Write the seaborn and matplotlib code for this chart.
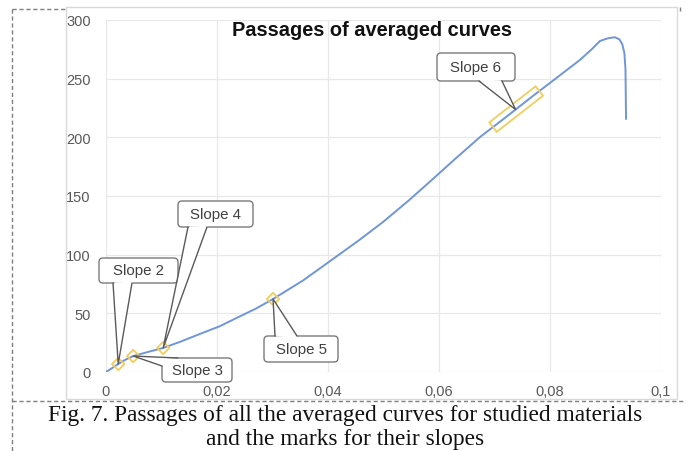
import numpy as np
import pandas as pd
import matplotlib
matplotlib.use("Agg")
import matplotlib.pyplot as plt
import seaborn as sns
from matplotlib.patches import FancyBboxPatch, Polygon, Rectangle
from matplotlib.lines import Line2D
from matplotlib.transforms import IdentityTransform
from matplotlib.ticker import FuncFormatter

# ---------------- data ----------------
strain = [0, 0.001, 0.0022, 0.0035, 0.0049, 0.0075, 0.0103, 0.0135, 0.0169,
          0.0205, 0.0235, 0.027, 0.0301, 0.0355, 0.0409, 0.0455, 0.0499,
          0.0545, 0.0589, 0.063, 0.0674, 0.072, 0.0769, 0.081, 0.0854,
          0.0875, 0.0890, 0.0905, 0.0917, 0.0925, 0.0930, 0.0934, 0.0936,
          0.0937]
stress = [0, 3, 6.8, 10.5, 13.6, 17, 20.5, 26, 32.4, 39, 46, 54, 62.2, 78,
          96.3, 112, 127.8, 146, 164.5, 182, 200.3, 217, 235.2, 250, 266,
          275, 282.1, 284.5, 285.3, 283.5, 279.6, 272, 258, 215.6]

slope_labels = ["Slope 2", "Slope 3", "Slope 4", "Slope 5", "Slope 6"]
slope_x = [0.0022, 0.0049, 0.0103, 0.0301]
slope6_x = [0.0703, 0.0775]

x_ticks = [0, 0.02, 0.04, 0.06, 0.08, 0.1]
y_ticks = [0, 50, 100, 150, 200, 250, 300]

title = "Passages of averaged curves"
caption1 = "Fig. 7. Passages of all the averaged curves for studied materials"
caption2 = "and the marks for their slopes"

# marks sit on the curve
slope_y = list(np.interp(slope_x, strain[:29], stress[:29]))
slope6_y = list(np.interp(slope6_x, strain[:29], stress[:29]))

# ---------------- figure ----------------
W, H = 686, 452
sns.set_theme(style="white")
plt.rcParams['font.family'] = ['Liberation Sans', 'DejaVu Sans']

fig = plt.figure(figsize=(W / 100, H / 100), dpi=100)
fig.patch.set_facecolor("white")

def fx(px):
    return px / W

def fy(py):
    return 1 - py / H

# axes: x=0 -> px 106, x=0.1 -> px 661 ; y=0 -> py 373, y=300 -> py 21
ax = fig.add_axes([fx(106), fy(373), (661 - 106) / W, (373 - 21) / H])
ax.set_facecolor("none")

# chart frame (light grey) and dashed document border
fig.add_artist(Rectangle((fx(66), fy(400)), (677 - 66) / W, (400 - 8) / H,
                         transform=fig.transFigure, fill=False,
                         ec="#d9d9d9", lw=1.0, zorder=0))
dash_kw = dict(color="#7f7f7f", lw=1.0, ls=(0, (3, 2)), transform=fig.transFigure)
fig.add_artist(Line2D([fx(12), fx(12)], [fy(10), fy(452)], **dash_kw))
fig.add_artist(Line2D([fx(12), fx(66)], [fy(10), fy(10)], **dash_kw))
fig.add_artist(Line2D([fx(12), fx(686)], [fy(402), fy(402)], **dash_kw))
fig.add_artist(Line2D([fx(680), fx(680)], [fy(8), fy(12)], **dash_kw))

df = pd.DataFrame({"strain": strain, "stress": stress})
sns.lineplot(data=df, x="strain", y="stress", sort=False, estimator=None,
             color="#6F96D8", lw=1.4, ax=ax, zorder=3)

ax.set_xlim(0, 0.1)
ax.set_ylim(0, 300)
ax.set_xticks(x_ticks)
ax.set_yticks(y_ticks)
ax.xaxis.set_major_formatter(FuncFormatter(lambda v, p: f"{v:g}".replace(".", ",")))
ax.grid(True, color="#e8e8e8", lw=0.9)
for s in ax.spines.values():
    s.set_visible(False)
ax.tick_params(axis="both", length=0, labelsize=10.5, colors="#595959")
ax.tick_params(axis="y", pad=11)
ax.tick_params(axis="x", pad=9)
ax.set_xlabel("")
ax.set_ylabel("")

gold = "#F4CC5C"
# slope markers (diamonds)
ax.scatter(slope_x, slope_y, marker="D", s=40, facecolor="none",
           edgecolor=gold, lw=1.3, zorder=4, clip_on=False)

# slope 6 rectangle around the curve segment
p0 = ax.transData.transform((slope6_x[0], slope6_y[0]))
p1 = ax.transData.transform((slope6_x[1], slope6_y[1]))
d = p1 - p0
d = d / np.hypot(*d)
n = np.array([-d[1], d[0]])
ext = 4
hw = 6
a = p0 - d * ext
b = p1 + d * ext
corners = [a + n * hw, b + n * hw, b - n * hw, a - n * hw]
fig.add_artist(Polygon(corners, closed=True, fill=False, ec=gold, lw=1.3,
                       transform=IdentityTransform(), zorder=4))

# callouts (pixel boxes, tips at data points)
def to_disp(px, py):
    return np.array([px, H - py])

def callout(text, box, bases, tip):
    x0, y0, x1, y1 = box
    fig.add_artist(FancyBboxPatch((x0, H - y1), x1 - x0, y1 - y0,
                                  boxstyle="round,pad=0,rounding_size=4",
                                  fc="white", ec="#7a7a7a", lw=1.0,
                                  transform=IdentityTransform(), zorder=5))
    t = ax.transData.transform(tip)
    b1 = to_disp(*bases[0])
    b2 = to_disp(*bases[1])
    cx = (x0 + x1) / 2
    cy = H - (y0 + y1) / 2
    c = np.array([cx, cy])
    b1i = b1 + (c - b1) / np.hypot(*(c - b1)) * 1.5
    b2i = b2 + (c - b2) / np.hypot(*(c - b2)) * 1.5
    fig.add_artist(Polygon([b1i, t, b2i], closed=True, fc="white", ec="none",
                           transform=IdentityTransform(), zorder=6))
    fig.add_artist(Line2D([b1[0], t[0], b2[0]], [b1[1], t[1], b2[1]],
                          color="#5a5a5a", lw=1.0,
                          transform=IdentityTransform(), zorder=6))
    fig.text(fx(cx), cy / H, text, ha="center", va="center", fontsize=10.8,
             color="#404040", zorder=7)

mid6 = (0.0738, float(np.interp(0.0738, strain[:29], stress[:29])))
callout(slope_labels[0], (99, 259, 178, 284), [(113, 284), (132, 284)], (slope_x[0], slope_y[0]))
callout(slope_labels[1], (162, 359, 232, 383), [(162, 367), (178, 359)], (slope_x[1], slope_y[1]))
callout(slope_labels[2], (178, 202, 253, 228), [(188, 228), (207, 228)], (slope_x[2], slope_y[2]))
callout(slope_labels[3], (264, 337, 338, 363), [(275, 337), (297, 337)], (slope_x[3], slope_y[3]))
callout(slope_labels[4], (437, 54, 515, 82), [(479, 82), (502, 82)], mid6)

fig.text(fx(372), fy(30), title, ha="center", va="center", fontsize=14.4,
         fontweight="bold", color="#111111")

serif = ["Liberation Serif", "DejaVu Serif"]
fig.text(fx(345), fy(421), caption1, ha="center", va="baseline", fontsize=16.8,
         family=serif, color="#111111")
fig.text(fx(345), fy(445), caption2, ha="center", va="baseline", fontsize=16.8,
         family=serif, color="#111111")

fig.savefig("out.png", dpi=100, facecolor="white")
